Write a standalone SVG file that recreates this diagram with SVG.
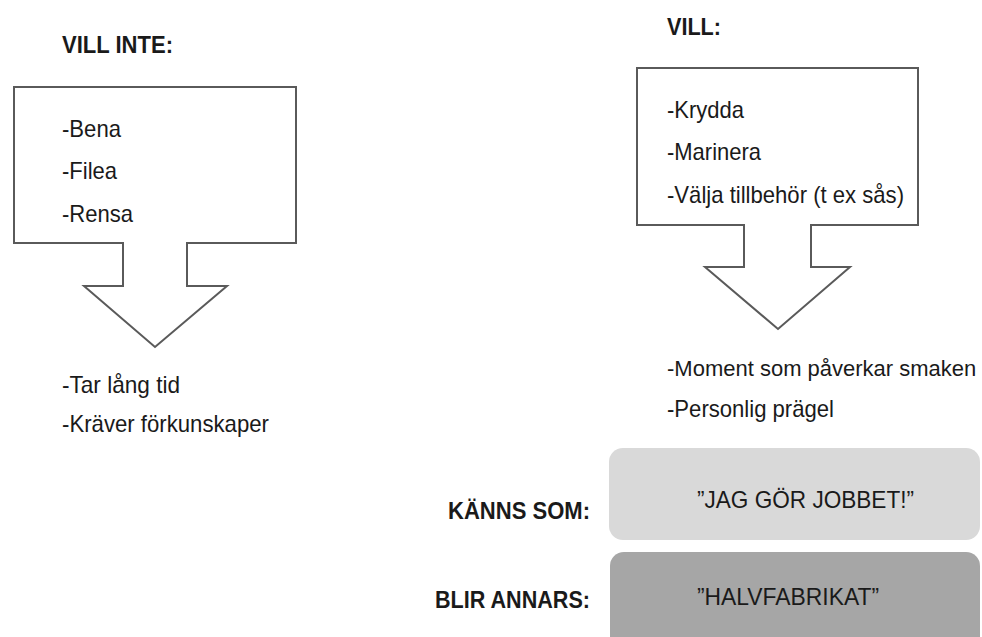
<svg xmlns="http://www.w3.org/2000/svg" width="982" height="637" viewBox="0 0 982 637">
<style>
text{font-family:"Liberation Sans",Arial,sans-serif;font-size:24px;fill:#1a1a1a}
.h{font-weight:bold}
.shape{fill:#fff;stroke:#5a5a5a;stroke-width:2}
</style>
<rect width="982" height="637" fill="#fff"/>
<g id="vill-inte">
<text class="h" x="62" y="53" textLength="111" lengthAdjust="spacingAndGlyphs">VILL INTE:</text>
<path class="shape" d="M14,87 H296 V243 H187 V286 H227 L155,347 L84,286 H123 V243 H14 Z"/>
<text x="62" y="137" textLength="59" lengthAdjust="spacingAndGlyphs">-Bena</text>
<text x="62" y="179" textLength="55" lengthAdjust="spacingAndGlyphs">-Filea</text>
<text x="62" y="222" textLength="71" lengthAdjust="spacingAndGlyphs">-Rensa</text>
<text x="62" y="393" textLength="118" lengthAdjust="spacingAndGlyphs">-Tar lång tid</text>
<text x="62" y="432" textLength="207" lengthAdjust="spacingAndGlyphs">-Kräver förkunskaper</text>
</g>
<g id="vill">
<text class="h" x="667" y="35" textLength="54" lengthAdjust="spacingAndGlyphs">VILL:</text>
<path class="shape" d="M637,68 H918 V225 H811 V267 H850 L778,329 L705,267 H744 V225 H637 Z"/>
<text x="667" y="118" textLength="77" lengthAdjust="spacingAndGlyphs">-Krydda</text>
<text x="667" y="160" textLength="94" lengthAdjust="spacingAndGlyphs">-Marinera</text>
<text x="667" y="203" textLength="237" lengthAdjust="spacingAndGlyphs">-Välja tillbehör (t ex sås)</text>
<text x="667" y="376" style="font-size:22px">-Moment som påverkar smaken</text>
<text x="667" y="417" textLength="167" lengthAdjust="spacingAndGlyphs">-Personlig prägel</text>
</g>
<g id="kanns-som">
<text class="h" x="448" y="519" textLength="142" lengthAdjust="spacingAndGlyphs">KÄNNS SOM:</text>
<rect x="609" y="448" width="371" height="92" rx="14" fill="#d9d9d9"/>
<text x="697" y="508" textLength="217" lengthAdjust="spacingAndGlyphs">”JAG GÖR JOBBET!”</text>
</g>
<g id="blir-annars">
<text class="h" x="435" y="608" textLength="155" lengthAdjust="spacingAndGlyphs">BLIR ANNARS:</text>
<rect x="610" y="552" width="370" height="100" rx="14" fill="#a6a6a6"/>
<text x="697" y="605" textLength="182" lengthAdjust="spacingAndGlyphs">”HALVFABRIKAT”</text>
</g>
<g id="connectors"></g>
</svg>
